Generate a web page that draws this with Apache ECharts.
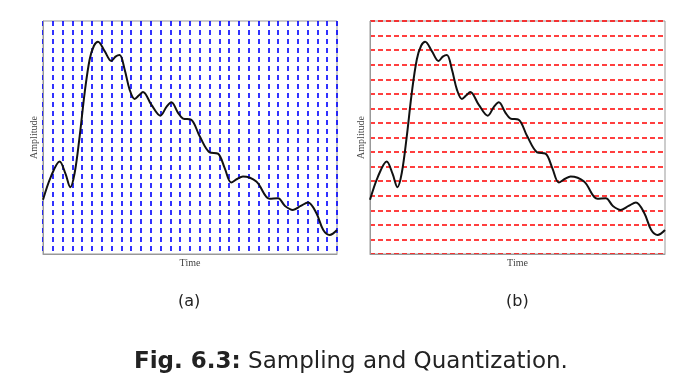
<!DOCTYPE html>
<html><head><meta charset="utf-8">
<script src="https://cdn.jsdelivr.net/npm/echarts@6/dist/echarts.min.js"></script>
<style>html,body{margin:0;padding:0;background:#fff}#c{width:691px;height:385px}</style>
</head><body><div id="c"></div>
<script>
// Signal samples (time in sample units 0..30, amplitude in quantization levels 0..16)
const times = [0, 0.8, 1.7, 2.3, 2.79, 3.23, 3.74, 4.25, 4.76, 5.2, 5.61, 6.29, 6.97, 7.4, 7.82, 8.33, 8.84, 9.35, 9.8, 10.2, 11.05, 11.97, 12.6, 13.1, 13.78, 14.29, 15.1, 15.99, 17.0, 17.85, 18.54, 19.2, 19.8, 20.4, 21.77, 23.13, 23.98, 24.7, 25.5, 26.3, 27.04, 27.9, 28.6, 29.25, 30];
const amplitude = [3.72, 5.3, 6.36, 5.5, 4.59, 5.56, 8.08, 11.07, 13.36, 14.3, 14.58, 13.93, 13.25, 13.55, 13.66, 12.67, 11.29, 10.65, 10.9, 11.13, 10.26, 9.5, 10.1, 10.42, 9.69, 9.3, 9.23, 8.08, 6.98, 6.89, 5.9, 4.91, 5.15, 5.33, 4.98, 3.79, 3.83, 3.3, 3.03, 3.3, 3.54, 2.8, 1.65, 1.31, 1.65];
const panelLabels = ['(a)', '(b)'];
const axisNames = ['Time', 'Amplitude'];
const caption = ['Fig. 6.3:', ' Sampling and Quantization.'];

const pts = times.map((t, i) => [t, amplitude[i]]);
const chart = echarts.init(document.getElementById('c'));
const axisLine = {show: true, lineStyle: {color: '#999', width: 1}};
const nameStyle = {fontFamily: 'Liberation Serif', fontSize: 10, color: '#444'};
function xAxis(idx, split) {
  return {type: 'value', gridIndex: idx, min: 0, max: 30, interval: 1,
    name: axisNames[0], nameLocation: 'middle', nameGap: 4, nameTextStyle: nameStyle,
    axisLine: axisLine, axisTick: {show: false}, axisLabel: {show: false},
    splitLine: split ? {show: true, lineStyle: {color: '#0000ff', type: [5, 4], width: 1.6}} : {show: false}};
}
function yAxis(idx, split) {
  return {type: 'value', gridIndex: idx, min: 0, max: 16, interval: 1,
    name: axisNames[1], nameLocation: 'middle', nameGap: 4, nameTextStyle: nameStyle,
    axisLine: axisLine, axisTick: {show: false}, axisLabel: {show: false},
    splitLine: split ? {show: true, lineStyle: {color: '#ff0000', type: [5, 3], width: 1.6}} : {show: false}};
}
chart.setOption({
  animation: false,
  grid: [
    {left: 43, top: 21, width: 294, height: 233, show: true, borderColor: '#999', borderWidth: 1},
    {left: 370, top: 21, width: 295, height: 233, show: true, borderColor: '#999', borderWidth: 1}
  ],
  xAxis: [xAxis(0, true), xAxis(1, false)],
  yAxis: [yAxis(0, false), yAxis(1, true)],
  series: [0, 1].map(i => ({type: 'line', xAxisIndex: i, yAxisIndex: i, data: pts, smooth: 0.35,
    showSymbol: false, lineStyle: {color: '#111', width: 2}, z: 5})),
  graphic: [
    {type: 'text', left: 178, top: 294, style: {text: panelLabels[0], font: '16px "DejaVu Sans"', fill: '#222'}},
    {type: 'text', left: 506, top: 294, style: {text: panelLabels[1], font: '16px "DejaVu Sans"', fill: '#222'}},
    {type: 'text', left: 134, top: 351, style: {
      rich: {b: {fontFamily: 'DejaVu Sans', fontWeight: 'bold', fontSize: 23, fill: '#222'},
             n: {fontFamily: 'DejaVu Sans', fontSize: 23, fill: '#222'}},
      text: '{b|' + caption[0] + '}{n|' + caption[1] + '}'}}
  ]
});
</script></body></html>
